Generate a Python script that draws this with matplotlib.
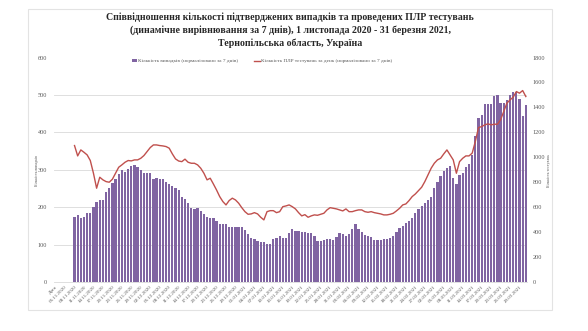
import matplotlib
matplotlib.use("Agg")
import matplotlib.pyplot as plt
from matplotlib.patches import Rectangle, Patch
from matplotlib.lines import Line2D
import pandas as pd

# ---- data ----
dates = pd.date_range("2020-11-03", "2021-03-31", freq="D")
categories = ["Дата"] + [d.strftime("%d.%m.%Y") for d in dates]
first_bar_cat = 6  # category index of first data point (08.11.2020)

cases = [175, 178, 171, 173, 185, 185, 201, 215, 219, 220, 240, 250, 264, 275, 288, 298,
         294, 301, 311, 313, 307, 298, 290, 290, 290, 275, 277, 275, 275, 268, 262, 257,
         250, 246, 226, 221, 212, 197, 195, 199, 190, 181, 173, 172, 171, 164, 154, 154,
         154, 148, 146, 148, 148, 146, 139, 128, 117, 114, 110, 108, 108, 102, 101, 114,
         118, 122, 117, 118, 130, 141, 137, 136, 133, 133, 132, 130, 123, 110, 110, 112,
         114, 115, 112, 121, 130, 128, 123, 127, 142, 154, 142, 133, 126, 124, 121, 112,
         112, 112, 114, 115, 117, 123, 134, 143, 150, 157, 163, 170, 184, 194, 202, 212,
         218, 228, 252, 268, 282, 297, 304, 310, 277, 261, 286, 290, 308, 315, 340, 389,
         438, 446, 475, 476, 475, 497, 501, 479, 479, 487, 500, 507, 509, 488, 444, 473]

tests = [1094, 1011, 1059, 1040, 1019, 974, 872, 752, 840, 819, 805, 800, 824, 872, 920, 939,
         960, 974, 971, 979, 979, 992, 1014, 1046, 1078, 1099, 1099, 1094, 1091, 1086, 1073, 1027,
         987, 970, 965, 985, 960, 952, 952, 939, 912, 872, 819, 832, 786, 738, 685, 645,
         618, 653, 672, 658, 632, 596, 564, 543, 546, 556, 546, 519, 498, 564, 572, 572,
         556, 564, 604, 610, 618, 604, 586, 556, 530, 540, 519, 530, 538, 535, 543, 551,
         578, 596, 591, 586, 578, 570, 586, 564, 564, 572, 578, 578, 564, 559, 564, 556,
         551, 546, 538, 538, 543, 551, 570, 591, 618, 626, 653, 685, 706, 733, 760, 805,
         859, 912, 952, 979, 992, 1027, 1059, 1019, 979, 872, 965, 992, 1011, 1011, 1033, 1126,
         1238, 1246, 1260, 1268, 1260, 1265, 1265, 1300, 1367, 1434, 1460, 1482, 1527, 1514, 1535, 1487]

left_ticks = [0, 100, 200, 300, 400, 500, 600]
right_ticks = [0, 200, 400, 600, 800, 1000, 1200, 1400, 1600, 1800]

title = ("Співвідношення кількості підтверджених випадків та проведених ПЛР тестувань\n"
         "(динамічне вирівнювання за 7 днів), 1 листопада 2020 - 31 березня 2021,\n"
         "Тернопільська область, Україна")
label_cases = "Кількість випадків (нормалізовано за 7 днів)"
label_tests = "Кількість ПЛР тестувань за день (нормалізовано за 7 днів)"

# ---- style ----
BAR = "#8064A2"
LINE = "#C0504D"
GRAY = "#595959"
GRID = "#D9D9D9"
SERIF = ["Liberation Serif", "DejaVu Serif"]

W, H = 588, 331
fig = plt.figure(figsize=(W / 100, H / 100), dpi=100)
fig.patch.set_facecolor("white")

# chart border
fig.patches.append(Rectangle((28 / W, 1 - 310 / H), (552 - 28) / W, (310 - 9) / H,
                             transform=fig.transFigure, fill=False, edgecolor="#E3E3E3", lw=0.8))

ax = fig.add_axes([54 / W, 1 - 282 / H, (527.4 - 54) / W, (282 - 57.5) / H])
xs = list(range(first_bar_cat, first_bar_cat + len(cases)))
ax.bar(xs, cases, width=0.72, color=BAR, edgecolor="none", zorder=2)
ax.set_xlim(-0.5, len(categories) - 0.5)
ax.set_ylim(0, 600)
ax.set_yticks(left_ticks)
ax.yaxis.grid(True, color=GRID, lw=0.6, zorder=0)
ax.set_axisbelow(True)
for s in ["top", "right", "left"]:
    ax.spines[s].set_visible(False)
ax.spines["bottom"].set_color(GRID)
ax.spines["bottom"].set_linewidth(0.6)
ax.tick_params(axis="both", length=0, colors=GRAY)
ax.set_xticks(list(range(0, len(categories), 3)))
ax.set_xticklabels(categories[::3], rotation=45, ha="right", rotation_mode="anchor",
                   fontsize=3.6, family=SERIF, color=GRAY)
for t in ax.get_yticklabels():
    t.set_fontsize(4.5); t.set_family(SERIF); t.set_color(GRAY)
ax.tick_params(axis="y", pad=5)
ax.tick_params(axis="x", pad=2)

ax2 = ax.twinx()
ax2.plot(xs, tests, color=LINE, lw=1.0, zorder=3)
ax2.set_ylim(0, 1800)
ax2.set_yticks(right_ticks)
for s in ["top", "right", "left", "bottom"]:
    ax2.spines[s].set_visible(False)
ax2.tick_params(axis="y", length=0, colors=GRAY, pad=4)
for t in ax2.get_yticklabels():
    t.set_fontsize(4.5); t.set_family(SERIF); t.set_color(GRAY)

# axis titles
fig.text(37 / W, 1 - 170 / H, "Кількість випадків", rotation=90, fontsize=2.8,
         family=SERIF, color=GRAY, ha="center", va="center")
fig.text(549 / W, 1 - 170 / H, "Кількість тестувань", rotation=90, fontsize=2.8,
         family=SERIF, color=GRAY, ha="center", va="center")

# title
fig.text(290 / W, 1 - 12 / H, title, ha="center", va="top", fontsize=7.1,
         fontweight="bold", family=SERIF, color="#262626", linespacing=1.45)

# legend
handles = [Patch(facecolor=BAR, edgecolor="none", label=label_cases),
           Line2D([0], [0], color=LINE, lw=1.0, label=label_tests)]
leg = fig.legend(handles=handles, loc="center", bbox_to_anchor=(262 / W, 1 - 61 / H),
                 ncol=2, frameon=True, handlelength=1.0, handleheight=0.6,
                 handletextpad=0.3, columnspacing=3.0, borderpad=0.2,
                 prop={"family": SERIF, "size": 3.8})
leg.get_frame().set_facecolor("white")
leg.get_frame().set_edgecolor("none")
for t in leg.get_texts():
    t.set_color(GRAY)

fig.savefig("out.png", dpi=100, facecolor="white")
